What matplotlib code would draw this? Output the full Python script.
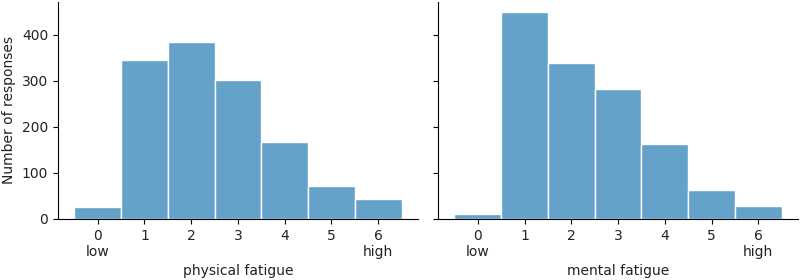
import matplotlib
matplotlib.use("Agg")
import matplotlib.pyplot as plt

# Fatigue ratings 0..6 and how many responses fell into each
levels = [0, 1, 2, 3, 4, 5, 6]
physical_counts = [26, 346, 384, 301, 167, 72, 44]
mental_counts = [11, 449, 339, 283, 163, 63, 28]
tick_labels = ["0\nlow", "1", "2", "3", "4", "5", "6\nhigh"]

plt.rcParams["text.color"] = "#222222"
plt.rcParams["axes.labelcolor"] = "#222222"
plt.rcParams["xtick.labelcolor"] = "#222222"
plt.rcParams["ytick.labelcolor"] = "#222222"

fig, axes = plt.subplots(1, 2, figsize=(8, 2.8), dpi=100, sharey=True)
fig.subplots_adjust(left=0.0725, right=0.9975, bottom=0.218, top=0.993, wspace=0.056)

bar_color = "#65a2c9"

for ax, counts, name in zip(axes, [physical_counts, mental_counts],
                            ["physical fatigue", "mental fatigue"]):
    ax.bar(levels, counts, width=1.0, color=bar_color, edgecolor="white", linewidth=1)
    ax.set_xticks(levels)
    ax.set_xticklabels(tick_labels)
    ax.set_xlabel(name)
    ax.spines["top"].set_visible(False)
    ax.spines["right"].set_visible(False)

axes[0].set_ylabel("Number of responses")
axes[0].set_yticks([0, 100, 200, 300, 400])

plt.savefig("out.png", dpi=100)
